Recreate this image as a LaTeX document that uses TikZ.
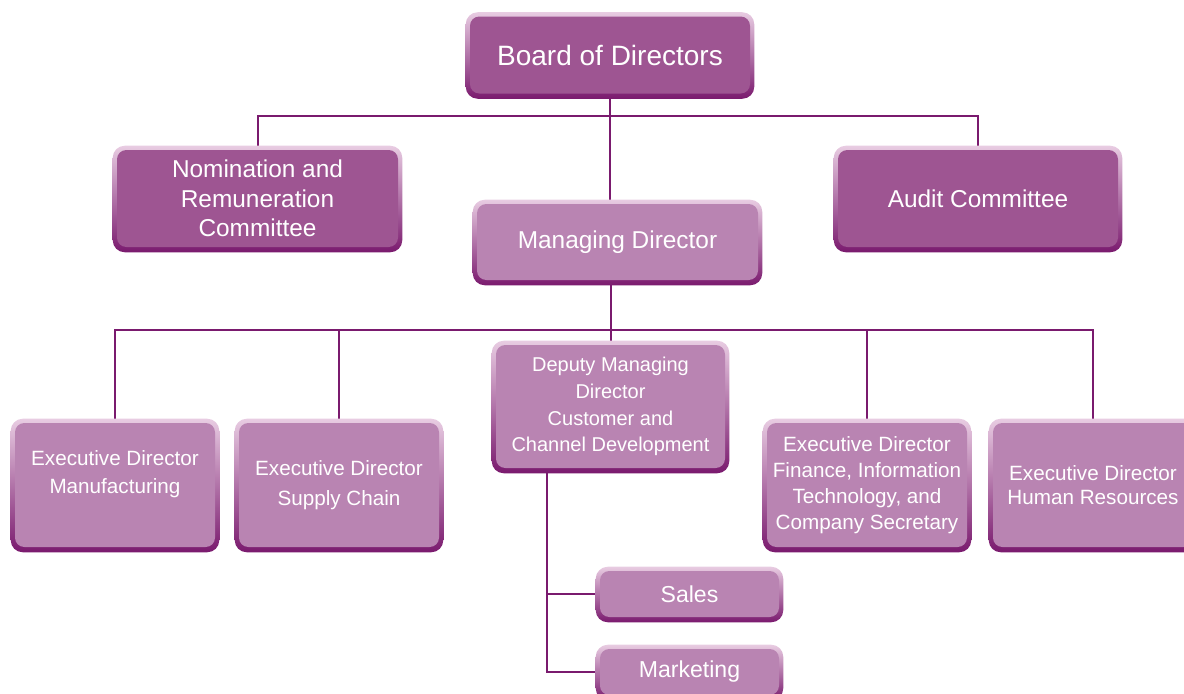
\documentclass[tikz,border=0pt]{standalone}
\usepackage{fontspec}
\setmainfont{Liberation Sans}
\usetikzlibrary{backgrounds}

\definecolor{darkfill}{RGB}{158,85,146}
\definecolor{lightfill}{RGB}{185,132,178}
\definecolor{edgetop}{RGB}{232,204,226}
\definecolor{edgebot}{RGB}{122,26,110}
\definecolor{linkcol}{RGB}{122,26,110}

\tikzset{
  box/.style={rounded corners=7pt, text=white, align=center, inner sep=0pt},
  darkbox/.style={box, fill=darkfill},
  lightbox/.style={box, fill=lightfill},
  link/.style={draw=linkcol, line width=1.5pt},
}

\begin{document}
\begin{tikzpicture}[x=0.75pt,y=0.75pt,yscale=-1,xscale=1]
\useasboundingbox (0,0) rectangle (1184,693);

% Text Node
\node[darkbox, minimum width=210pt, minimum height=57.75pt, font=\fontsize{21}{25}\selectfont] (bod) at (610,55) {Board of Directors};
% Text Node
\node[darkbox, minimum width=210.75pt, minimum height=72.75pt, font=\fontsize{18.3}{22}\selectfont] (nrc) at (257.5,198.5) {Nomination and\\Remuneration\\Committee};
% Text Node
\node[darkbox, minimum width=210pt, minimum height=72.75pt, font=\fontsize{18.3}{22}\selectfont] (audit) at (978,198.5) {Audit Committee};
% Text Node
\node[lightbox, minimum width=210.75pt, minimum height=57pt, font=\fontsize{18.3}{22}\selectfont] (md) at (617.5,242) {Managing Director};

% Text Node
\node[lightbox, minimum width=171.75pt, minimum height=92.25pt, font=\fontsize{15}{20}\selectfont] (dmd) at (610.5,406.5) {Deputy Managing\\Director\\Customer and\\Channel Development};
% Text Node
\node[lightbox, minimum width=150pt, minimum height=93pt, font=\fontsize{15.5}{21.5}\selectfont] (edm) at (115,485) {Executive Director\\Manufacturing\\[-2pt]\mbox{}};
% Text Node
\node[lightbox, minimum width=150pt, minimum height=93pt, font=\fontsize{15.5}{22.5}\selectfont] (eds) at (339,485) {Executive Director\\Supply Chain};
% Text Node
\node[lightbox, minimum width=150pt, minimum height=93pt, font=\fontsize{15.5}{19.6}\selectfont] (edf) at (867,485) {Executive Director\\Finance, Information\\Technology, and\\Company Secretary};
% Text Node
\node[lightbox, minimum width=150pt, minimum height=93pt, font=\fontsize{15.5}{18}\selectfont] (edh) at (1093,485) {Executive Director\\Human Resources};

% Text Node
\node[lightbox, minimum width=134.25pt, minimum height=34.5pt, font=\fontsize{17.3}{20}\selectfont] (sales) at (689.5,594) {Sales};
% Text Node
\node[lightbox, minimum width=134.25pt, minimum height=34.5pt, font=\fontsize{17.3}{20}\selectfont] (mkt) at (689.5,672) {Marketing};

\begin{pgfonlayer}{background}
%Straight Lines
\coordinate (bus1) at (610,116);
\coordinate (bus2) at (610,330);
\coordinate (stem) at (547,468);
\draw[link] (bod.south) -- (bod.south |- md.north);
\draw[link] (nrc.north) |- (bus1) -| (audit.north);
\draw[link] (dmd.north |- md.south) -- (dmd.north);
\draw[link] (edm.north) |- (bus2) -| (edh.north);
\draw[link] (eds.north) |- (bus2);
\draw[link] (edf.north) |- (bus2);
\draw[link] (stem) |- (sales.west);
\draw[link] (stem) |- (mkt.west);

%Shape: Rounded Rectangle borders
\foreach \n in {bod,nrc,audit,md,dmd,edm,eds,edf,edh,sales,mkt}
  \shade[top color=edgetop, bottom color=edgebot, rounded corners=9pt]
    ([shift={(-3pt,-3pt)}]\n.north west) rectangle ([shift={(3pt,3.75pt)}]\n.south east);
\end{pgfonlayer}

\end{tikzpicture}
\end{document}
